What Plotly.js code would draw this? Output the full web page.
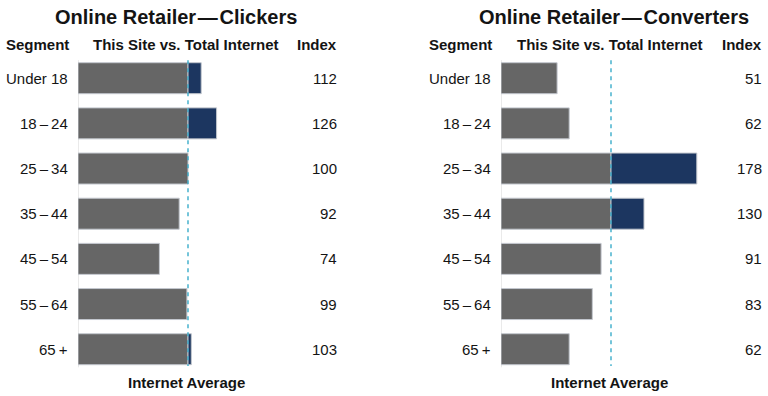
<!DOCTYPE html>
<html>
<head>
<meta charset="utf-8">
<script src="https://cdn.plot.ly/plotly-3.0.1.min.js"></script>
<style>html,body{margin:0;padding:0;background:#fff;}#chart{width:768px;height:396px;}</style>
</head>
<body>
<div id="chart"></div>
<script>
const segments = ["Under 18", "18\u2009\u2013\u200924", "25\u2009\u2013\u200934", "35\u2009\u2013\u200944", "45\u2009\u2013\u200954", "55\u2009\u2013\u200964", "65\u2009+"];
const clickers = [112, 126, 100, 92, 74, 99, 103];
const converters = [51, 62, 178, 130, 91, 83, 62];
const average = 100;
const panelTitles = ["Online Retailer\u200a\u2014\u200aClickers", "Online Retailer\u200a\u2014\u200aConverters"];

const W = 768, H = 396;
const FONT = "Liberation Sans, Arial, Helvetica, sans-serif";
const TXT = "#141414";
const GRAY = "#666666", NAVY = "#1c3660", EDGE = "#c3c7ce", DASH = "#2ba6c6";
const rowIdx = segments.map((_, i) => i);

// pixel geometry
const pxPerUnit = 1.1;
const panels = [
  {data: clickers, x0: 78, labelRight: 339, titleX: 176, segX: 4, midX: 186, avgX: 186, xa: "x", ya: "y"},
  {data: converters, x0: 501, labelRight: 764, titleX: 614, segX: 427, midX: 610, avgX: 609, xa: "x2", ya: "y2"}
];
const xMax = 200;
const rowTop = 78.2, rowStep = 45.17;
const yRange = [(H - rowTop) / rowStep, -rowTop / rowStep];

const traces = [];
const annotations = [];
const shapes = [];
const layout = {
  width: W, height: H,
  margin: {l: 0, r: 0, t: 0, b: 0},
  paper_bgcolor: "#fff", plot_bgcolor: "rgba(0,0,0,0)",
  showlegend: false,
  barmode: "overlay",
  font: {family: FONT, color: TXT},
  annotations, shapes
};

panels.forEach((p, k) => {
  const sfx = k === 0 ? "" : "2";
  layout["xaxis" + sfx] = {
    domain: [p.x0 / W, (p.x0 + xMax * pxPerUnit) / W],
    range: [0, xMax], visible: false, fixedrange: true, anchor: "y" + sfx
  };
  layout["yaxis" + sfx] = {
    domain: [0, 1], range: yRange, visible: false, fixedrange: true, anchor: "x" + sfx
  };
  traces.push({
    type: "bar", orientation: "h", xaxis: p.xa, yaxis: p.ya,
    y: rowIdx, x: p.data.map(v => Math.min(v, average)), base: 0,
    width: 0.686,
    marker: {color: GRAY, line: {color: EDGE, width: 1}},
    hoverinfo: "skip"
  });
  traces.push({
    type: "bar", orientation: "h", xaxis: p.xa, yaxis: p.ya,
    y: rowIdx, x: p.data.map(v => v > average ? v - average : null), base: average,
    width: 0.686,
    marker: {color: NAVY, line: {color: EDGE, width: 1}},
    hoverinfo: "skip"
  });
  // axis line
  shapes.push({type: "line", xref: p.xa, yref: p.ya, x0: 0, x1: 0, y0: -0.4, y1: 6.4,
    line: {color: "#d6d6d6", width: 1}, layer: "below"});
  // average dashed line
  shapes.push({type: "line", xref: p.xa, yref: p.ya, x0: average, x1: average, y0: -0.4, y1: 6.37,
    line: {color: DASH, width: 1.3, dash: "4px,4px"}, layer: "above"});

  // title
  annotations.push({xref: "paper", yref: "paper", x: p.titleX / W, y: 1 - 17 / H,
    xanchor: "center", yanchor: "middle", showarrow: false,
    text: "<b>" + panelTitles[k] + "</b>", font: {size: 20, family: FONT, color: TXT}});
  // headers
  const hy = 1 - 44 / H;
  annotations.push({xref: "paper", yref: "paper", x: p.segX / W, y: hy, xanchor: "left", yanchor: "middle",
    showarrow: false, text: "<b>Segment</b>", font: {size: 15, family: FONT, color: TXT}});
  annotations.push({xref: "paper", yref: "paper", x: p.midX / W, y: hy, xanchor: "center", yanchor: "middle",
    showarrow: false, text: "<b>This Site vs. Total Internet</b>", font: {size: 15, family: FONT, color: TXT}});
  annotations.push({xref: "paper", yref: "paper", x: p.labelRight / W, y: hy, xanchor: "right", yanchor: "middle",
    showarrow: false, text: "<b>Index</b>", font: {size: 15, family: FONT, color: TXT}});
  // footer
  annotations.push({xref: "paper", yref: "paper", x: p.avgX / W, y: 1 - 382 / H, xanchor: "center", yanchor: "middle",
    showarrow: false, text: "<b>Internet Average</b>", font: {size: 15, family: FONT, color: TXT}});
  // row labels + index values
  segments.forEach((s, i) => {
    annotations.push({xref: p.xa, yref: p.ya, x: 0, y: i, xanchor: "right", yanchor: "middle", xshift: -8,
      showarrow: false, text: s, font: {size: 15, family: FONT, color: TXT}});
    annotations.push({xref: "paper", yref: p.ya, x: p.labelRight / W, y: i, xanchor: "right", yanchor: "middle",
      showarrow: false, text: String(p.data[i]), font: {size: 15, family: FONT, color: TXT}});
  });
});

Plotly.newPlot("chart", traces, layout, {displayModeBar: false, staticPlot: true});
</script>
</body>
</html>
